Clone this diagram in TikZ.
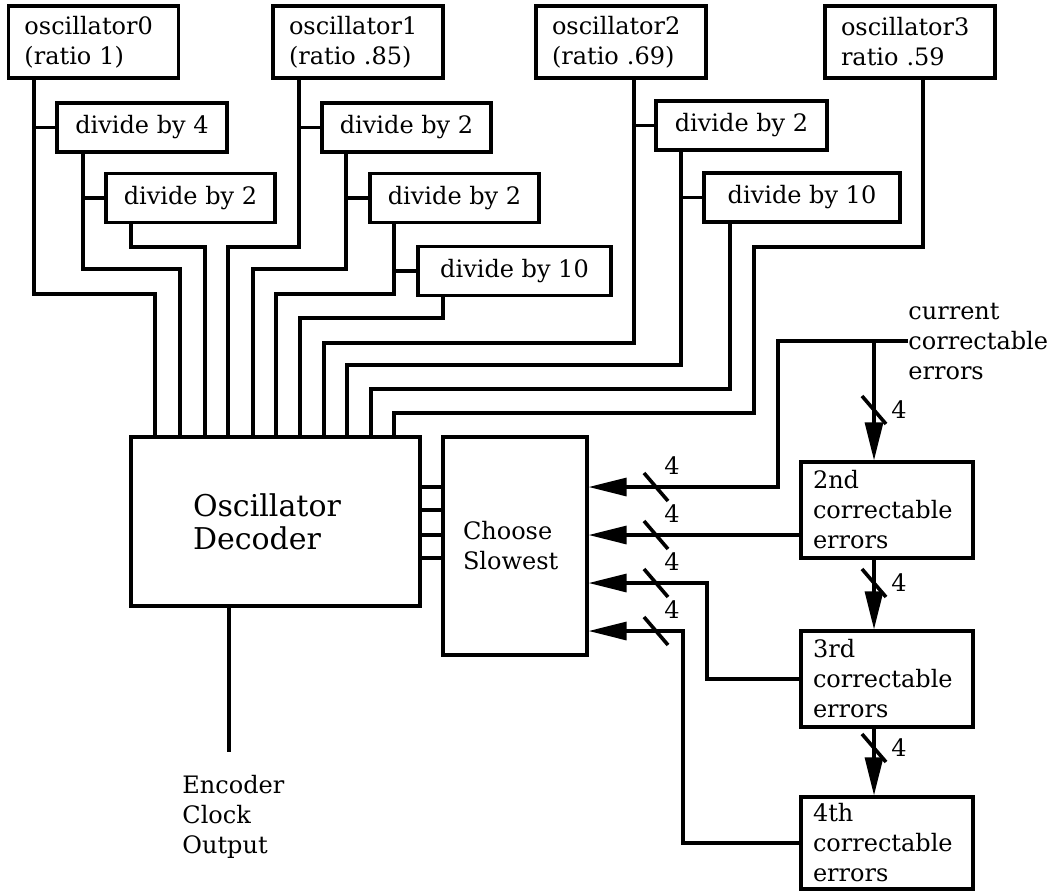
\documentclass[tikz,border=0pt]{standalone}
\usepackage{fontspec}
\setmainfont{DejaVu Serif}
\usetikzlibrary{arrows.meta,positioning}
\tikzset{
        blk/.style={draw, line width=1.6pt, inner sep=0pt, font=\fontsize{12}{15}\selectfont},
        % Oscillator sources
        oscbox/.style={blk, minimum width=85pt, minimum height=36pt, text width=69pt, align=left},
        % Frequency dividers
        divbox/.style={blk, minimum height=24.5pt, align=center},
        % Error registers
        errbox/.style={blk, minimum width=86pt, minimum height=48pt, text width=74pt, align=left},
        % Plain text
        lbl/.style={inner sep=0pt, align=left, font=\fontsize{12}{15}\selectfont},
        wire/.style={line width=1.6pt},
        bus/.style={wire, -{Triangle[length=19pt, width=9pt]}},
        slash/.style={line width=1.8pt}
}
\begin{document}
\begin{tikzpicture}[x=0.5pt, y=-0.5pt]
    \useasboundingbox (0,0) rectangle (1063,894);

    % oscillators and dividers
    \node[oscbox] (osc0) at (93.5,42) {oscillator0\\(ratio 1)};
    \node[oscbox] (osc1) at (358,42) {oscillator1\\(ratio .85)};
    \node[oscbox] (osc2) at (621,42) {oscillator2\\(ratio .69)};
    \node[oscbox] (osc3) at (910,42) {oscillator3\\ratio .59};
    \node[divbox, minimum width=85pt] (osc0d4) at (142,127.5) {divide by 4};
    \node[divbox, minimum width=84.5pt] (osc0d2) at (190.5,198) {divide by 2};
    \node[divbox, minimum width=84.5pt] (osc1d2) at (406.5,127.5) {divide by 2};
    \node[divbox, minimum width=84.5pt] (osc1d2b) at (454.5,198) {divide by 2};
    \node[divbox, minimum width=96.5pt] (osc1d10) at (514.5,271) {divide by 10};
    \node[divbox, minimum width=85.5pt] (osc2d2) at (741.5,125.5) {divide by 2};
    \node[divbox, minimum width=98pt] (osc2d10) at (802,197.5) {divide by 10};

    % decoder and selector
    \node[blk, minimum width=144.5pt, minimum height=84.5pt, text width=82.5pt, align=left,
          font=\fontsize{15}{16.5}\selectfont] (dec) at (275.5,521.5) {Oscillator\\Decoder};
    \node[blk, minimum width=72pt, minimum height=109pt, text width=52pt, align=left] (pick) at (515,546) {Choose\\Slowest};

    % error registers
    \node[errbox] (e2) at (887,510) {2nd\\correctable\\errors};
    \node[errbox] (e3) at (887,679) {3rd\\correctable\\errors};
    \node[errbox, minimum height=46pt] (e4) at (887,843) {4th\\correctable\\errors};
    \node[lbl, anchor=west] (cur) at (908,341) {current\\correctable\\errors};
    \node[lbl, anchor=west] (clk) at (182,817) {Encoder\\Clock\\Output};

    % oscillator 0
    \draw[wire] (osc0.south -| 34,0) |- (155,294) -- (155,0 |- dec.north);
    \draw[wire] (osc0d4.west -| 34,0) -- (osc0d4.west);
    \draw[wire] (osc0d4.south -| 83,0) |- (180,269) -- (180,0 |- dec.north);
    \draw[wire] (osc0d2.west -| 83,0) -- (osc0d2.west);
    \draw[wire] (osc0d2.south -| 131,0) |- (205,247) -- (205,0 |- dec.north);
    % oscillator 1
    \draw[wire] (osc1.south -| 299,0) |- (228,247) -- (228,0 |- dec.north);
    \draw[wire] (osc1d2.west -| 299,0) -- (osc1d2.west);
    \draw[wire] (osc1d2.south -| 346,0) |- (253,269) -- (253,0 |- dec.north);
    \draw[wire] (osc1d2b.west -| 346,0) -- (osc1d2b.west);
    \draw[wire] (osc1d2b.south -| 394,0) |- (276,294) -- (276,0 |- dec.north);
    \draw[wire] (osc1d10.west -| 394,0) -- (osc1d10.west);
    \draw[wire] (osc1d10.south -| 443,0) |- (300,318) -- (300,0 |- dec.north);
    % oscillator 2
    \draw[wire] (osc2.south -| 634,0) |- (324,343) -- (324,0 |- dec.north);
    \draw[wire] (osc2d2.west -| 634,0) -- (osc2d2.west);
    \draw[wire] (osc2d2.south -| 681,0) |- (347,365) -- (347,0 |- dec.north);
    \draw[wire] (osc2d10.west -| 681,0) -- (osc2d10.west);
    \draw[wire] (osc2d10.south -| 730,0) |- (371,389) -- (371,0 |- dec.north);
    % oscillator 3
    \draw[wire] (osc3.south -| 923,0) |- (754,247) |- (394,413) -- (394,0 |- dec.north);

    % decoder to selector, and clock out
    \foreach \y in {487,510,535,558}
        \draw[wire] (dec.east |- 0,\y) -- (pick.west |- 0,\y);
    \coordinate (clkend) at (229,752);
    \draw[wire] (dec.south -| clkend) -- (clkend);

    % error buses
    \coordinate (tap) at (874,342);
    \draw[bus] (cur.west) -| (778,487) -- (pick.east |- 0,487);
    \draw[bus] (tap) -- (tap |- e2.north);
    \draw[bus] (tap |- e2.south) -- (tap |- e3.north);
    \draw[bus] (tap |- e3.south) -- (tap |- e4.north);
    \draw[bus] ([yshift=-12.5pt]e2.west) coordinate (x2) -- (pick.east |- x2);
    \draw[bus] (e3.west) -| (707,583) -- (pick.east |- 0,583);
    \draw[bus] (e4.west) -| (683,631) -- (pick.east |- 0,631);

    % bus widths
    \foreach \y in {487,535,583,631} {
        \draw[slash] (644,\y-14) -- (668,\y+14);
        \node[lbl] (wh\y) at (672,\y-21) {4};
    }
    \foreach \y in {410,583,748} {
        \draw[slash] (862,\y-14) -- (886,\y+14);
        \node[lbl] (wv\y) at (899,\y) {4};
    }
\end{tikzpicture}
\end{document}
